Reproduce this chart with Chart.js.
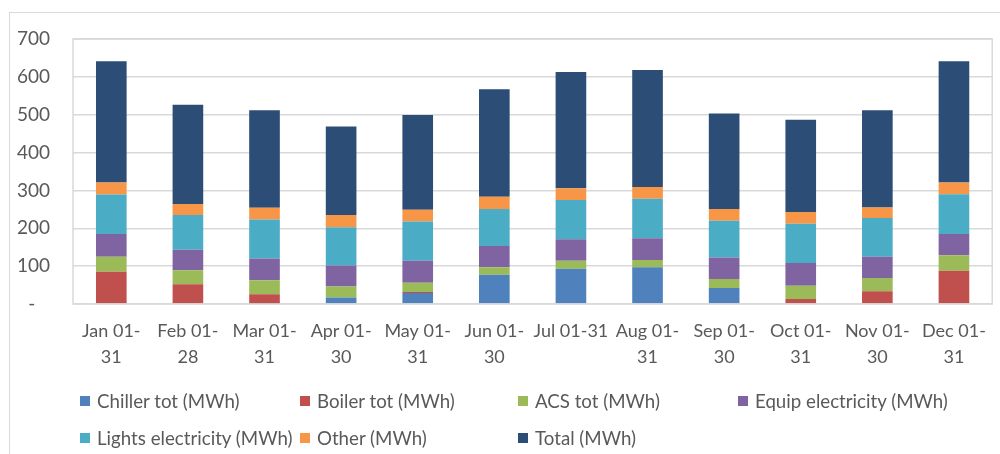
<!DOCTYPE html>
<html><head><meta charset="utf-8">
<script src="https://cdn.jsdelivr.net/npm/chart.js@4/dist/chart.umd.min.js"></script>
<style>
html,body{margin:0;padding:0;background:#fff;width:1000px;height:454px;overflow:hidden;}
#frame{position:absolute;left:9px;top:12px;width:1000px;height:460px;border-left:1px solid #d9d9d9;border-top:1px solid #d9d9d9;}
#wrap{position:absolute;left:0;top:0;width:1000px;height:454px;}
.lg{position:absolute;font-family:Lato,'Open Sans',sans-serif;font-size:18.7px;color:#595959;white-space:nowrap;line-height:20px;height:20px;}
.lg i{position:absolute;left:0;top:5px;width:10px;height:10px;}
.lg span{position:absolute;left:17px;top:0;}
</style></head>
<body>
<div id="frame"></div>
<div id="wrap"><canvas id="c" width="1000" height="454"></canvas></div>
<div id="legend"></div>
<script>
const categories = [
  ['Jan 01-','31'],['Feb 01-','28'],['Mar 01-','31'],['Apr 01-','30'],['May 01-','31'],['Jun 01-','30'],
  'Jul 01-31',['Aug 01-','31'],['Sep 01-','30'],['Oct 01-','31'],['Nov 01-','30'],['Dec 01-','31']
];
const seriesNames = ['Chiller tot (MWh)','Boiler tot (MWh)','ACS tot (MWh)','Equip electricity (MWh)','Lights electricity (MWh)','Other (MWh)','Total (MWh)'];
const chiller = [0, 0, 1, 17, 29, 77, 93, 97, 42, 2, 0, 0];
const boiler  = [85, 52, 25, 0, 3, 0, 0, 0, 0, 11, 34, 88];
const acs     = [40, 37, 37, 29, 24, 20, 21, 19, 24, 35, 35, 41];
const equip   = [60, 54, 57, 56, 58, 56, 57, 58, 57, 60, 56, 56];
const lights  = [104, 92, 103, 101, 104, 98, 104, 104, 97, 104, 102, 105];
const other   = [32, 29, 31, 32, 31, 32, 31, 31, 31, 31, 28, 31];
const total   = [320, 262, 258, 234, 250, 284, 307, 309, 252, 244, 257, 320];
const yTicks  = [0, 100, 200, 300, 400, 500, 600, 700];

const colors = ['#4F81BD','#C0504D','#9BBB59','#8064A2','#4BACC6','#F79646','#2C4D76'];
const seriesData = [chiller, boiler, acs, equip, lights, other, total];

const FONT = "Lato, 'Open Sans', sans-serif";
const TXT = '#595959';
const GRID = '#d9d9d9';

const frameBox = {
  id: 'frameBox',
  afterDraw(chart) {
    const {ctx, chartArea: a} = chart;
    ctx.save();
    ctx.strokeStyle = GRID;
    ctx.lineWidth = 1.5;
    ctx.strokeRect(a.left, a.top, a.right - a.left, a.bottom - a.top);
    ctx.restore();
  }
};

new Chart(document.getElementById('c'), {
  type: 'bar',
  data: {
    labels: categories,
    datasets: seriesNames.map((n, i) => ({
      label: n, data: seriesData[i], backgroundColor: colors[i],
      borderWidth: 0, categoryPercentage: 1, barPercentage: 0.4
    }))
  },
  options: {
    responsive: false, animation: false,
    layout: { padding: { left: 9, right: 3, top: 39, bottom: 0 } },
    plugins: { legend: { display: false }, tooltip: { enabled: false } },
    scales: {
      x: {
        stacked: true,
        grid: { display: false, drawTicks: false },
        border: { display: false },
        ticks: { color: TXT, font: { family: FONT, size: 18, lineHeight: 1.45 }, padding: 14, maxRotation: 0, autoSkip: false },
        afterFit(s) { s.height = 150; }
      },
      y: {
        stacked: true, min: 0, max: 700,
        grid: { color: GRID, lineWidth: 1.5, drawTicks: false },
        border: { display: false },
        afterBuildTicks(s) { s.ticks = yTicks.map(v => ({ value: v })); },
        ticks: { color: TXT, font: { family: FONT, size: 19 }, padding: 23,
          callback: v => v === 0 ? '-   ' : String(v) },
        afterFit(s) { s.width = 64; }
      }
    }
  },
  plugins: [frameBox]
});

const legendPos = [[80,391],[300,391],[518,391],[738,391],[80,428],[300,428],[518,428]];
const lg = document.getElementById('legend');
seriesNames.forEach((n, i) => {
  const d = document.createElement('div');
  d.className = 'lg';
  d.style.left = legendPos[i][0] + 'px';
  d.style.top = legendPos[i][1] + 'px';
  const b = document.createElement('i'); b.style.background = colors[i];
  const s = document.createElement('span'); s.textContent = n;
  d.appendChild(b); d.appendChild(s);
  lg.appendChild(d);
});
</script>
</body></html>
